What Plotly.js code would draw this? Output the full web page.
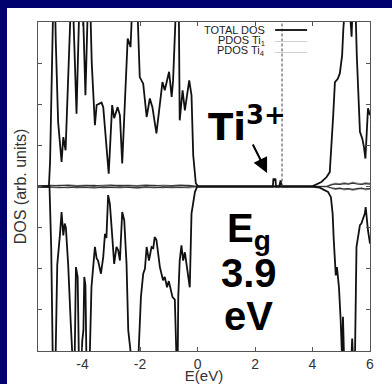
<!DOCTYPE html>
<html>
<head>
<meta charset="utf-8">
<script src="https://cdn.plot.ly/plotly-3.0.1.min.js"></script>
<style>
  html, body { margin:0; padding:0; width:392px; height:384px; background:#00006e; overflow:hidden; }
  #chart { position:absolute; left:7px; top:8px; width:385px; height:376px; background:#fff; }
</style>
</head>
<body>
<div id="chart"></div>
<script>
// ---- data ----
const energyUp = [-5.55,-5.17,-5.13,-5.06,-4.99,-4.93,-4.85,-4.73,-4.67,-4.59,-4.50,-4.40,-4.33,-4.21,-4.12,-4.06,-3.98,-3.90,-3.82,-3.76,-3.68,-3.57,-3.51,-3.44,-3.34,-3.28,-3.20,-3.17,-3.09,-2.97,-2.90,-2.78,-2.70,-2.62,-2.43,-2.33,-2.26,-2.18,-2.10,-2.01,-1.89,-1.77,-1.66,-1.57,-1.43,-1.31,-1.22,-1.14,-1.06,-0.99,-0.90,-0.85,-0.76,-0.70,-0.65,-0.62,-0.52,-0.44,-0.29,-0.21,-0.15,-0.06,0.02,2.62,2.64,2.68,2.71,2.73,2.84,2.89,2.93,3.97,4.31,4.49,4.60,4.66,4.72,4.78,4.83,4.88,4.95,5.03,5.07,5.11,5.19,5.28,5.36,5.40,5.47,5.54,5.59,5.65,5.73,5.79,5.84,5.89,5.93,6.0];
const dosUp = [0,0,0.6,3.5,5.5,3.5,1.57,0.6,1.2,0.88,2.8,4.6,4.4,1.77,4.2,5.0,4.2,2.22,4.3,5.2,3.0,1.49,1.98,2.00,2.04,1.93,1.33,0.92,0.31,1.98,1.66,1.93,1.73,0.56,3.6,3.39,4.5,6.0,4.5,2.66,2.50,1.69,2.14,1.93,1.29,2.10,2.54,2.34,2.58,2.79,2.18,2.58,4.2,5.0,4.2,1.61,2.34,1.85,2.58,2.22,0.76,0.08,0,0,0.19,0.16,0.19,0,0,0.15,0,0,0.11,0.23,0.35,0.93,1.73,2.54,2.58,2.62,2.75,3.19,3.8,4.5,5.0,4.5,3.64,4.5,5.0,3.2,2.14,1.33,1.17,0.96,0.68,1.61,1.90,1.73];

const energyDown = [-5.55,-5.15,-5.09,-5.02,-4.96,-4.88,-4.79,-4.73,-4.67,-4.62,-4.58,-4.50,-4.41,-4.34,-4.29,-4.23,-4.17,-4.11,-4.06,-4.01,-3.97,-3.94,-3.90,-3.85,-3.78,-3.69,-3.62,-3.57,-3.51,-3.46,-3.36,-3.28,-3.22,-3.17,-3.11,-3.05,-2.99,-2.90,-2.82,-2.76,-2.70,-2.62,-2.55,-2.47,-2.41,-2.35,-2.30,-2.22,-2.11,-2.06,-1.97,-1.89,-1.83,-1.77,-1.69,-1.60,-1.54,-1.49,-1.43,-1.31,-1.20,-1.14,-1.06,-1.00,-0.95,-0.87,-0.79,-0.73,-0.70,-0.67,-0.62,-0.56,-0.50,-0.44,-0.38,-0.33,-0.27,-0.21,-0.15,-0.09,-0.01,3.94,4.25,4.43,4.54,4.64,4.70,4.74,4.78,4.81,4.85,4.88,4.92,4.98,5.03,5.06,5.11,5.19,5.30,5.35,5.38,5.41,5.47,5.53,5.59,5.65,5.70,5.76,5.82,5.85,5.89,5.93,6.0];
const dosDown = [0,0,-1.5,-5,-5,-1.9,-1.2,-0.62,-1.19,-0.90,-1.0,-1.9,-3.33,-5,-5,-1.96,-2.2,-5,-5,-3.74,-3.5,-2.2,-2.4,-5,-5,-2.45,-1.9,-1.47,-1.75,-1.8,-2.12,-1.71,-1.15,-1.25,-0.21,-0.42,-0.99,-1.88,-1.47,-1.55,-1.80,-0.62,-0.82,-1.88,-3.50,-3.8,-4.2,-5,-5,-4.2,-2.69,-2.12,-2.0,-1.47,-1.80,-1.47,-1.5,-1.23,-1.3,-1.96,-2.28,-2.2,-2.45,-2.3,-2.45,-2.69,-2.75,-4.5,-5,-2.69,-1.80,-1.43,-1.8,-1.6,-1.9,-2.28,-2.45,-0.66,-0.34,-0.13,0,0,-0.03,-0.08,-0.13,-0.26,-0.66,-1.31,-1.88,-2.16,-1.96,-2.2,-2.45,-3.26,-4.2,-3.17,-4.5,-5,-5,-4.2,-3.7,-4.2,-4.5,-1.47,-1.15,-0.94,-0.9,-0.78,-0.66,-0.50,-0.8,-1.07,-1.39];

const pdosEnergy = [-5.55,-5.1,-4.8,-4.5,-4.2,-3.9,-3.6,-3.3,-3.0,-2.7,-2.4,-2.1,-1.8,-1.5,-1.2,-0.9,-0.6,-0.3,0,2.6,4.5,4.65,4.8,4.95,5.1,5.25,5.4,5.55,5.7,5.85,6.0];
const ti1Up   = [0,0.03,0.01,0.04,0.02,0.03,0.01,0.02,0.04,0.01,0.03,0.02,0.04,0.01,0.03,0.02,0.04,0.01,0,0,0,0.05,0.08,0.06,0.09,0.07,0.1,0.08,0.06,0.09,0.07];
const ti1Down = [0,-0.02,-0.03,-0.01,-0.03,-0.02,-0.04,-0.01,-0.02,-0.03,-0.01,-0.04,-0.02,-0.03,-0.01,-0.03,-0.02,-0.03,0,0,0,-0.04,-0.07,-0.05,-0.08,-0.06,-0.09,-0.07,-0.05,-0.08,-0.06];
const ti4Up   = [0,0.02,0.03,0.02,0.01,0.02,0.03,0.01,0.02,0.03,0.02,0.01,0.02,0.03,0.01,0.02,0.02,0.03,0,0,0,0.04,0.06,0.05,0.07,0.06,0.08,0.06,0.05,0.07,0.06];
const ti4Down = [0,-0.01,-0.02,-0.03,-0.01,-0.02,-0.01,-0.03,-0.02,-0.01,-0.02,-0.03,-0.01,-0.02,-0.03,-0.01,-0.02,-0.01,0,0,0,-0.03,-0.05,-0.04,-0.06,-0.05,-0.07,-0.05,-0.04,-0.06,-0.05];

const fermiLevel = [2.94, 2.94];
const fermiSpan = [0, 4];

const xTickVals = [-4, -2, 0, 2, 4, 6];
const xTickText = ['-4', '-2', '0', '2', '4', '6'];
const legendNames = ['TOTAL DOS', 'PDOS Ti<sub>1</sub>', 'PDOS Ti<sub>4</sub>'];

// ---- chart ----
const BASE = 'Liberation Sans, Arial, sans-serif';
const traces = [
  {x: pdosEnergy, y: ti1Up, mode: 'lines', line: {color: '#9a9a9a', width: 1.5}, hoverinfo: 'skip'},
  {x: pdosEnergy, y: ti1Down, mode: 'lines', line: {color: '#9a9a9a', width: 1.5}, hoverinfo: 'skip'},
  {x: pdosEnergy, y: ti4Up, mode: 'lines', line: {color: '#333', width: 1.2}, hoverinfo: 'skip'},
  {x: pdosEnergy, y: ti4Down, mode: 'lines', line: {color: '#333', width: 1.2}, hoverinfo: 'skip'},
  {x: energyUp, y: dosUp, mode: 'lines', line: {color: '#111', width: 1.8}, hoverinfo: 'skip'},
  {x: energyDown, y: dosDown, mode: 'lines', line: {color: '#111', width: 1.8}, hoverinfo: 'skip'},
  {x: fermiLevel, y: fermiSpan, mode: 'lines', line: {color: '#444', width: 1, dash: '3px,2px'}, hoverinfo: 'skip'}
];

const legendY = [3.805, 3.55, 3.295];
const legendLineY = [3.805, 3.526, 3.258];
const legendColors = ['#222', '#d0d0d0', '#d0d0d0'];
const legendWidths = [2, 1, 1];

const annotations = legendNames.map((t, i) => ({
  x: 2.42, y: legendY[i], xref: 'x', yref: 'y', xanchor: 'right', yanchor: 'middle',
  text: t, showarrow: false, font: {family: BASE, size: 11, color: '#222'}
}));
annotations.push(
  {x: 1.72, y: 1.5, xref: 'x', yref: 'y', text: 'Ti<sup>3+</sup>', showarrow: false,
   xanchor: 'center', yanchor: 'middle', font: {family: 'DejaVu Sans, sans-serif', size: 37, color: '#000', weight: 'bold'}},
  {x: 2.42, y: 0.33, xref: 'x', yref: 'y', text: '', showarrow: true, ax: -15, ay: -30,
   arrowhead: 2, arrowsize: 1.5, arrowwidth: 2, arrowcolor: '#000'},
  {x: 1.79, y: -1.08, xref: 'x', yref: 'y', text: '<b>E<sub>g</sub></b>', showarrow: false,
   xanchor: 'center', yanchor: 'middle', font: {family: BASE, size: 40, color: '#000'}},
  {x: 1.79, y: -2.10, xref: 'x', yref: 'y', text: '<b>3.9</b>', showarrow: false,
   xanchor: 'center', yanchor: 'middle', font: {family: BASE, size: 40, color: '#000'}},
  {x: 1.79, y: -3.15, xref: 'x', yref: 'y', text: '<b>eV</b>', showarrow: false,
   xanchor: 'center', yanchor: 'middle', font: {family: BASE, size: 40, color: '#000'}}
);

const shapes = legendLineY.map((yy, i) => ({
  type: 'line', xref: 'x', yref: 'y', x0: 2.70, x1: 3.81, y0: yy, y1: yy,
  line: {color: legendColors[i], width: legendWidths[i]}, layer: 'above'
}));

const layout = {
  width: 385, height: 376,
  margin: {l: 31, r: 22, t: 14, b: 33, pad: 0},
  paper_bgcolor: '#fff', plot_bgcolor: '#fff',
  showlegend: false,
  font: {family: BASE, color: '#333'},
  xaxis: {
    range: [-5.55, 6], tickvals: xTickVals, ticktext: xTickText,
    ticks: 'inside', ticklen: 4, tickcolor: '#555', showline: true, linecolor: '#555', linewidth: 1,
    mirror: 'ticks', showgrid: false, zeroline: false,
    tickfont: {family: BASE, size: 14, color: '#333'},
    title: {text: 'E(eV)', font: {family: BASE, size: 15, color: '#333'}, standoff: 6}
  },
  yaxis: {
    range: [-4, 4], dtick: 1, showticklabels: false,
    ticks: 'inside', ticklen: 4, tickcolor: '#555', showline: true, linecolor: '#555', linewidth: 1,
    mirror: 'ticks', showgrid: false, zeroline: false,
    title: {text: 'DOS (arb. units)', font: {family: BASE, size: 16, color: '#333'}, standoff: 6}
  },
  annotations: annotations,
  shapes: shapes
};

Plotly.newPlot('chart', traces, layout, {staticPlot: true, displayModeBar: false});
</script>
</body>
</html>
